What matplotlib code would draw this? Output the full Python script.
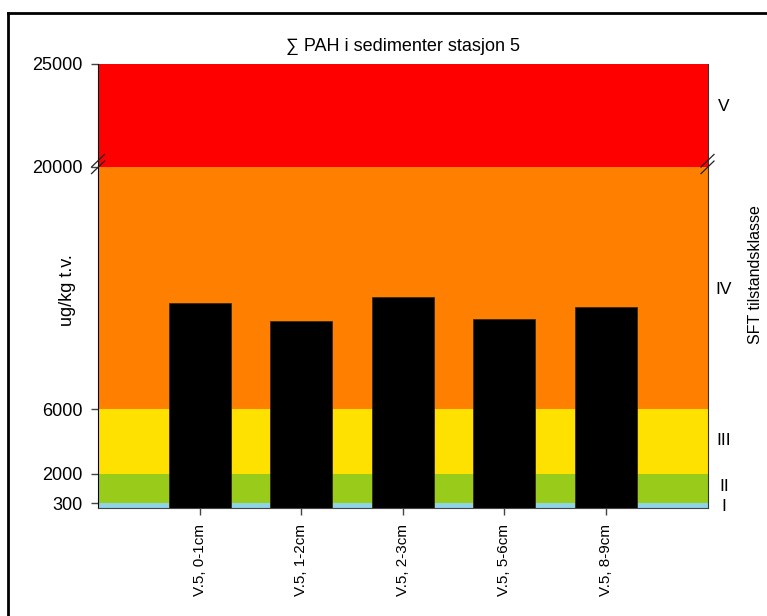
import numpy as np
import matplotlib
matplotlib.use('Agg')
import matplotlib.pyplot as plt
from matplotlib.transforms import blended_transform_factory
from matplotlib.lines import Line2D

plt.rcParams['font.family'] = ['Liberation Sans', 'DejaVu Sans']

samples = ['V.5, 0-1cm', 'V.5, 1-2cm', 'V.5, 2-3cm', 'V.5, 5-6cm', 'V.5, 8-9cm']
pah = [12100, 11100, 12450, 11200, 11900]

class_edges = [0, 300, 2000, 6000, 20000, 25000]
class_colors = ['#8fd3e6', '#99cc1a', '#ffe100', '#ff7f00', '#ff0000']
class_names = ['I', 'II', 'III', 'IV', 'V']
class_label_y = [75, 1230, 4080, 12880, 22900]
yticks = [300, 2000, 6000, 20000, 25000]

# piecewise y scale (pixel heights from the bottom)
seg_px = [0, 5.3, 34.6, 99.3, 341.6, 444.6]

def fwd(v):
    return np.interp(v, class_edges, seg_px)

def inv(p):
    return np.interp(p, seg_px, class_edges)

fig = plt.figure(figsize=(7.67, 6.16), dpi=100)
W, H = 767, 616
ax = fig.add_axes([98 / W, (H - 508.3) / H, 609.5 / W, 444.6 / H])
ax.set_yscale('function', functions=(fwd, inv))
ax.set_ylim(0, 25000)
ax.set_xlim(0, 6)

for lo, hi, col in zip(class_edges[:-1], class_edges[1:], class_colors):
    ax.axhspan(lo, hi, color=col, lw=0, zorder=0)

x = np.arange(1, len(samples) + 1)
ax.bar(x, pah, width=0.61, color='black', edgecolor='#3a2a00', linewidth=0.6, zorder=2)

ax.set_yticks(yticks)
ax.set_yticklabels([str(t) for t in yticks])
ax.yaxis.set_minor_locator(matplotlib.ticker.NullLocator())
ax.set_xticks(x)
ax.set_xticklabels(samples, rotation=90)
ax.tick_params(axis='both', length=5, width=1, color='#444444')
ax.tick_params(axis='y', pad=6, labelsize=13)
ax.tick_params(axis='x', pad=6, labelsize=11)

ax.spines['top'].set_visible(False)
ax.spines['left'].set_color('black')
ax.spines['right'].set_color('#333333')
ax.spines['bottom'].set_color('#444444')

ax.set_title('\u2211 PAH i sedimenter stasjon 5', fontsize=13, pad=9)

trans = blended_transform_factory(ax.transAxes, ax.transData)
for name, yv in zip(class_names, class_label_y):
    ax.text(1.027, yv, name, transform=trans, fontsize=12.5, ha='center', va='center')

# break marks at 20000 on both axes
yb = fwd(20000) / 444.6
dx, dy = 6.5 / 609.5, 6.3 / 444.6
for xa in [0, 1]:
    for off in [3.3 / 444.6, -3.3 / 444.6]:
        ax.add_line(Line2D([xa - dx, xa + dx], [yb + off - dy + 0.006, yb + off + dy + 0.006],
                           transform=ax.transAxes, color='#222222', lw=0.9, clip_on=False, zorder=5))

fig.text(67 / W, (H - 290) / H, 'ug/kg t.v.', rotation=90, fontsize=13, ha='center', va='center')
fig.text(755 / W, (H - 275) / H, 'SFT tilstandsklasse', rotation=90, fontsize=11.5, ha='center', va='center')

# outer frame
fig.add_artist(Line2D([8 / W, 8 / W], [(H - 13) / H, 0], transform=fig.transFigure, color='black', lw=2))
fig.add_artist(Line2D([8 / W, 1], [(H - 13) / H, (H - 13) / H], transform=fig.transFigure, color='black', lw=2))

fig.savefig('out.png', dpi=100)
